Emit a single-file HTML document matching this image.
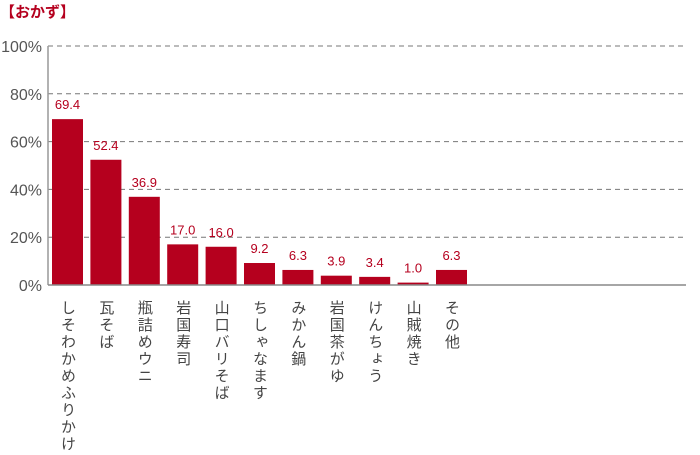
<!DOCTYPE html>
<html><head><meta charset="utf-8"><style>
body{margin:0;background:#fff;width:700px;height:450px;overflow:hidden;font-family:"Liberation Sans","Noto Sans CJK JP",sans-serif}
</style></head><body>
<svg width="700" height="450" id="c">
<text x="0" y="17" font-size="15" fill="#b5001e" font-weight="bold" font-family="Liberation Sans, Noto Sans CJK JP, sans-serif">【おかず】</text>
</svg>
<script>
const categories=["しそわかめふりかけ","瓦そば","瓶詰めウニ","岩国寿司","山口バリそば","ちしゃなます","みかん鍋","岩国茶がゆ","けんちょう","山賊焼き","その他"];
const values=[69.4,52.4,36.9,17.0,16.0,9.2,6.3,3.9,3.4,1.0,6.3];
const yTicks=[0,20,40,60,80,100];
const svg=document.getElementById('c');
const NS='http://www.w3.org/2000/svg';
const y0=285,yTop=46,xL=48,xR=686;
const y=v=>y0-(v/100)*(y0-yTop);
const step=38.4,bw=31;
const x=i=>52+i*step;
function mk(t,a){const e=document.createElementNS(NS,t);for(const k in a)e.setAttribute(k,a[k]);svg.appendChild(e);return e;}
yTicks.forEach(t=>{
  if(t>0){const g=mk('line',{x1:xL,x2:xR,y1:y(t),y2:y(t),stroke:'#777','stroke-dasharray':'5,4','stroke-width':1});
  
  }
  const l=mk('text',{x:42,y:y(t)+6,'text-anchor':'end','font-size':16,fill:'#555'});
  l.textContent=t+'%';
  
  
});
const ax=mk('line',{x1:xL,x2:xL,y1:yTop,y2:y0,stroke:'#999','stroke-width':1.5});


values.forEach((v,i)=>{
  const b=mk('rect',{x:x(i),y:y(v),width:bw,height:y0-y(v),fill:'#b5001e'});
  
  
  const t=mk('text',{x:x(i)+bw/2,y:y(v)-10,'text-anchor':'middle','font-size':13,fill:'#b5001e'});
  t.textContent=v.toFixed(1);
  
  
  const c=mk('text',{x:x(i)+bw/2,y:300,'font-size':15,fill:'#444','writing-mode':'tb','letter-spacing':'2'});
  c.style.writingMode='vertical-rl';
  c.textContent=categories[i];
  
  
});
const bl=mk('line',{x1:xL,x2:xR,y1:y0,y2:y0,stroke:'#888','stroke-width':1.5});


</script>
</body></html>
